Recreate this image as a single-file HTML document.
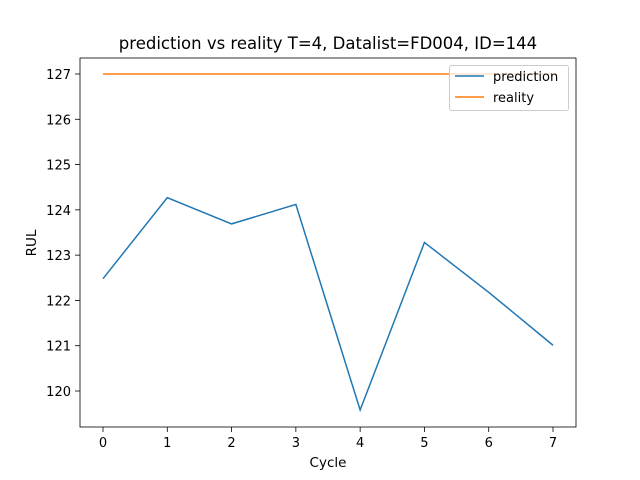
<!DOCTYPE html>
<html><head><meta charset="utf-8"><style>
body{margin:0;background:#fff;}
svg{display:block;font-family:"DejaVu Sans","Liberation Sans",sans-serif;}
</style></head><body>
<svg id="chart" width="640" height="480" viewBox="0 0 640 480">
<rect x="0" y="0" width="640" height="480" fill="#fff"/>
<text x="328" y="49" font-size="16.5" text-anchor="middle">prediction vs reality T=4, Datalist=FD004, ID=144</text>
<g id="axes"></g>
<text x="328" y="467" font-size="13.5" text-anchor="middle">Cycle</text>
<text transform="translate(36,243) rotate(-90)" font-size="13.5" text-anchor="middle">RUL</text>
</svg>
<script>
const cycles=[0,1,2,3,4,5,6,7];
const prediction=[122.48,124.27,123.69,124.12,119.58,123.28,122.18,121.01];
const reality=[127,127,127,127,127,127,127,127];
const yTicks=[120,121,122,123,124,125,126,127];
const xTicks=[0,1,2,3,4,5,6,7];
const L=80,R=576,T=58,B=427;
const xs=v=>103+(v-0)*(553-103)/7;
const ys=v=>74+(127-v)*(391-74)/7;
const NS="http://www.w3.org/2000/svg";
const g=document.getElementById('axes');
function mk(t,a){const e=document.createElementNS(NS,t);for(const k in a)e.setAttribute(k,a[k]);g.appendChild(e);return e;}
xTicks.forEach(v=>{
const t=mk('line',{x1:xs(v),x2:xs(v),y1:B,y2:B+5,stroke:'#000','stroke-width':0.8});


const l=mk('text',{x:xs(v),y:B+20,'font-size':13,'text-anchor':'middle'});l.textContent=v;


});
yTicks.forEach(v=>{
const t=mk('line',{x1:L-5,x2:L,y1:ys(v),y2:ys(v),stroke:'#000','stroke-width':0.8});


const l=mk('text',{x:L-9,y:ys(v)+5,'font-size':13,'text-anchor':'end'});l.textContent=v;


});
function line(data,color,name){
const p=mk('polyline',{points:data.map((v,i)=>xs(cycles[i])+','+ys(v)).join(' '),fill:'none',stroke:color,'stroke-width':1.5});


}
line(prediction,'#1f77b4','prediction-line');
line(reality,'#ff7f0e','reality-line');
const f=mk('rect',{x:L,y:T,width:R-L,height:B-T,fill:'none',stroke:'#000','stroke-width':0.8});


const lg=mk('rect',{x:449.5,y:65.5,width:119,height:45,rx:2,fill:'#fff','fill-opacity':0.8,stroke:'#ccc'});


[['prediction','#1f77b4',76],['reality','#ff7f0e',97]].forEach(([n,c,y])=>{
const s=mk('line',{x1:455,x2:484,y1:y,y2:y,stroke:c,'stroke-width':1.5});


const t=mk('text',{x:493,y:y+5,'font-size':13});t.textContent=n;


});
</script>
</body></html>
